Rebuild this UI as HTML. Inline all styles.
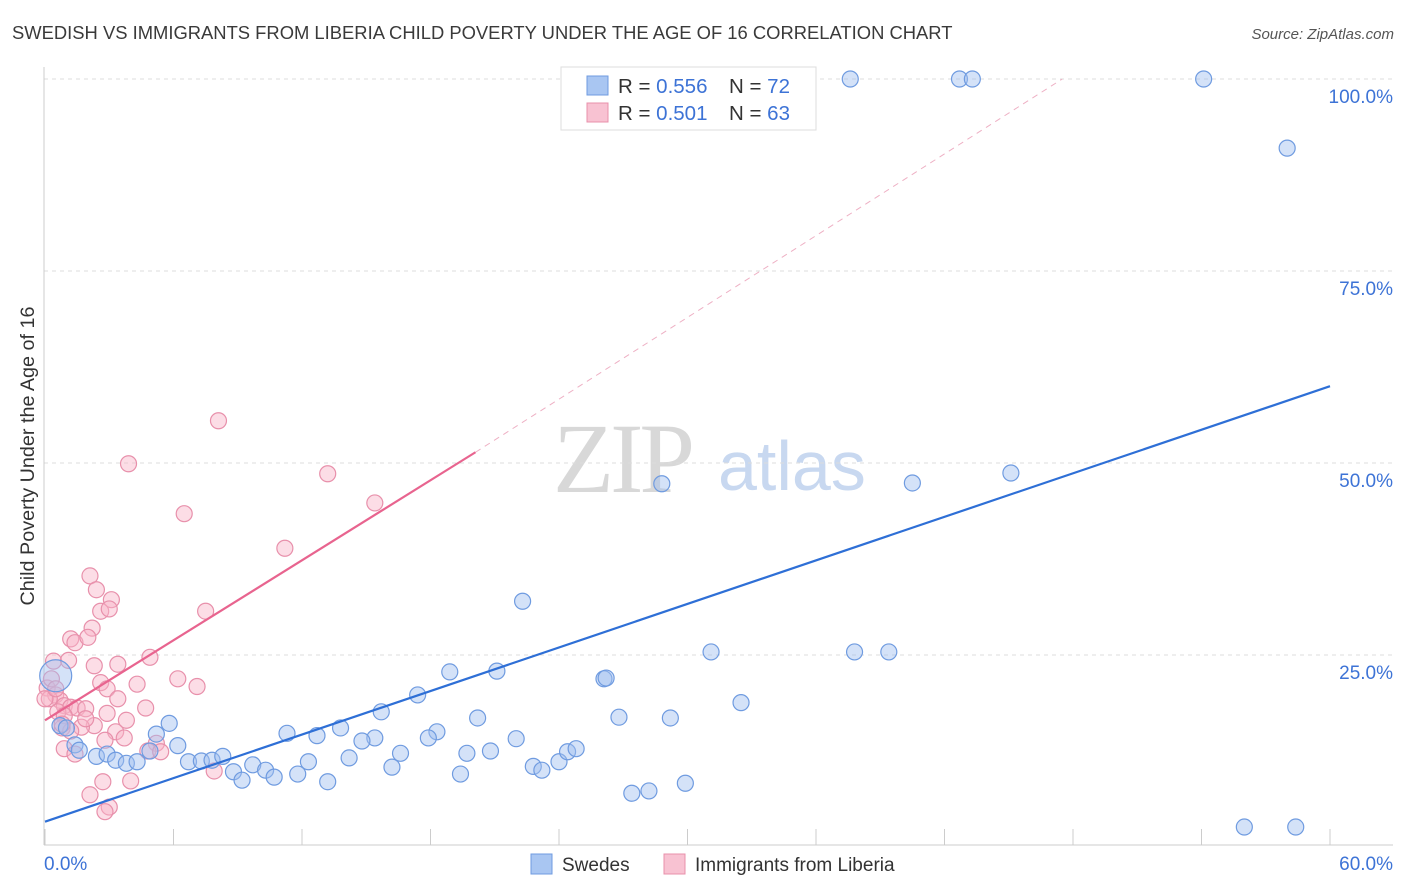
<!DOCTYPE html>
<html><head><meta charset="utf-8"><style>
body{margin:0;background:#fff;font-family:"Liberation Sans",sans-serif;}
#wrap{position:relative;width:1406px;height:892px;overflow:hidden;}
</style></head><body>
<div id="wrap">
<svg id="svg" width="1406" height="892" xmlns="http://www.w3.org/2000/svg">
<text x="12" y="39" font-size="18.4" fill="#3a3a3a">SWEDISH VS IMMIGRANTS FROM LIBERIA CHILD POVERTY UNDER THE AGE OF 16 CORRELATION CHART</text>
<text x="1394" y="39" font-size="15" fill="#555" font-style="italic" text-anchor="end">Source: ZipAtlas.com</text>
<text x="34" y="456" font-size="19.8" fill="#333" text-anchor="middle" transform="rotate(-90 34 456)">Child Poverty Under the Age of 16</text>
<g>
<text x="553" y="492" font-size="100" font-family="Liberation Serif,serif" fill="#d8d8d8" letter-spacing="-4">ZIP</text>
<text x="718" y="490" font-size="70" fill="#c8d8f0">atlas</text>
</g>
<g id="grid"></g>
<g id="axes"></g>
<g id="marks"></g>
<g>
<rect x="561" y="67" width="255" height="63" fill="#fff" stroke="#ddd"/>
<rect x="587" y="76" width="21" height="19" fill="#a9c6f2" stroke="#6f9be0"/>
<rect x="587" y="103" width="21" height="19" fill="#f8c2d2" stroke="#e890ab"/>
<text x="618" y="93" font-size="20.5" fill="#333">R = <tspan fill="#3d73d6">0.556</tspan></text>
<text x="729" y="93" font-size="20.5" fill="#333">N = <tspan fill="#3d73d6">72</tspan></text>
<text x="618" y="120" font-size="20.5" fill="#333">R = <tspan fill="#3d73d6">0.501</tspan></text>
<text x="729" y="120" font-size="20.5" fill="#333">N = <tspan fill="#3d73d6">63</tspan></text>
</g>
<g>
<rect x="531" y="854" width="21" height="20" fill="#a9c6f2" stroke="#6f9be0"/>
<text x="562" y="871" font-size="19" fill="#333">Swedes</text>
<rect x="664" y="854" width="21" height="20" fill="#f8c2d2" stroke="#e890ab"/>
<text x="695" y="871" font-size="19" fill="#333">Immigrants from Liberia</text>
</g>
</svg>
</div>
<script>
const yTicks=[25,50,75,100];
const yTickLabels=["25.0%","50.0%","75.0%","100.0%"];
const xTicks=[0,6,12,18,24,30,36,42,48,54,60];
const swedesX=[37.6,42.7,43.3,54.1,58.0,45.1,40.5,28.8,22.3,31.1,37.8,39.4,26.1,26.2,18.9,21.1,17.4,32.5,26.8,29.2,20.2,15.7,5.8,11.3,12.7,13.8,18.3,17.9,15.4,14.8,22.0,6.2,5.2,4.9,1.4,1.6,2.4,2.9,3.3,3.8,4.3,6.7,7.3,7.8,8.3,8.8,9.2,9.7,10.3,10.7,11.8,12.3,13.2,14.2,16.2,16.6,19.4,19.7,20.8,22.8,23.2,24.0,24.4,24.8,27.4,28.2,29.9,56.0,58.4,0.7,1.0];
const swedesY=[100,100,100,100,91.0,48.7,47.4,47.3,32.0,25.4,25.4,25.4,21.9,22.0,22.8,22.9,19.8,18.8,16.9,16.8,16.8,17.6,16.1,14.8,14.5,15.5,15.0,14.2,14.2,13.8,14.1,13.2,14.7,12.5,13.3,12.6,11.8,12.1,11.3,10.9,11.1,11.1,11.2,11.3,11.8,9.8,8.7,10.7,10.0,9.1,9.5,11.1,8.5,11.6,10.4,12.2,9.5,12.2,12.5,10.5,10.0,11.1,12.4,12.8,7.0,7.3,8.3,2.6,2.6,15.8,15.5];
const swedesBig=[[0.5,22.3]];
const liberiaX=[8.1,3.9,13.2,15.4,6.5,11.2,2.1,2.4,3.1,2.6,3.0,7.5,2.2,1.2,1.4,2.0,4.9,0.4,1.1,2.3,3.4,6.2,4.3,7.1,2.6,2.9,3.4,0.1,0.5,0.7,0.9,1.2,1.5,1.9,0.6,0.9,2.9,4.7,3.8,2.3,1.7,0.8,1.2,3.3,2.8,3.7,5.2,0.9,1.4,4.8,5.4,2.7,2.1,4.0,3.0,2.8,7.9,0.2,0.3,0.8,1.9,0.0,0.5];
const liberiaY=[55.5,49.9,48.6,44.8,43.4,38.9,35.3,33.5,32.2,30.7,31.0,30.7,28.5,27.1,26.6,27.3,24.7,24.2,24.3,23.6,23.8,21.9,21.2,20.9,21.4,20.6,19.3,20.7,19.8,19.1,18.4,18.2,18.1,18.0,17.6,17.1,17.4,18.1,16.5,15.8,15.6,15.5,15.1,15.0,13.9,14.2,13.5,12.8,12.1,12.5,12.4,8.5,6.8,8.6,5.2,4.6,9.9,19.3,21.9,16.0,16.7,19.3,20.6];
const swedesTrend=[[0,3.3],[60,60]];
const liberiaTrend=[[0,16.5],[20.1,51.4]];
const liberiaTrendDash=[[20.1,51.4],[47.5,100]];

const NS="http://www.w3.org/2000/svg";
const sx=v=>45+v*(1330-45)/60;
const sy=v=>847-v*7.68;
function mk(tag,attrs,parent){const e=document.createElementNS(NS,tag);for(const k in attrs)e.setAttribute(k,attrs[k]);parent.appendChild(e);return e;}
const grid=document.getElementById('grid'),axes=document.getElementById('axes'),marks=document.getElementById('marks');
yTicks.forEach((t,i)=>{
  const l=mk('line',{x1:44,x2:1393,y1:sy(t),y2:sy(t),stroke:'#ddd','stroke-dasharray':'4,4'},grid);
  
  
  const tx=mk('text',{x:1393,y:sy(t)+24,'font-size':19,fill:'#3d73d6','text-anchor':'end'},axes);
  tx.textContent=yTickLabels[i];
  
  
});
const ax=mk('line',{x1:44,x2:44,y1:67,y2:845,stroke:'#ccc'},axes);


const bx=mk('line',{x1:44,x2:1393,y1:845,y2:845,stroke:'#ccc'},axes);


xTicks.forEach(t=>{
  const l=mk('line',{x1:sx(t),x2:sx(t),y1:829,y2:845,stroke:'#ccc'},axes);
  
  
});
const x0=mk('text',{x:44,y:870,'font-size':19,fill:'#3d73d6'},axes);x0.textContent='0.0%';


const x1=mk('text',{x:1393,y:870,'font-size':19,fill:'#3d73d6','text-anchor':'end'},axes);x1.textContent='60.0%';



liberiaX.forEach((x,i)=>{
  const c=mk('circle',{cx:sx(x),cy:sy(liberiaY[i]),r:8,fill:'rgba(248,180,200,0.45)',stroke:'#e890ab','stroke-width':1.2},marks);
  
  
});
swedesX.forEach((x,i)=>{
  const c=mk('circle',{cx:sx(x),cy:sy(swedesY[i]),r:8,fill:'rgba(160,190,240,0.45)',stroke:'#6f9be0','stroke-width':1.2},marks);
  
  
});
swedesBig.forEach(p=>{
  const c=mk('circle',{cx:sx(p[0]),cy:sy(p[1]),r:16,fill:'rgba(160,190,240,0.45)',stroke:'#6f9be0','stroke-width':1.2},marks);
  
  
});
const d=mk('line',{x1:sx(liberiaTrendDash[0][0]),y1:sy(liberiaTrendDash[0][1]),x2:sx(liberiaTrendDash[1][0]),y2:sy(liberiaTrendDash[1][1]),stroke:'#eeb0c4','stroke-width':1,'stroke-dasharray':'6,5'},marks);


const lt=mk('line',{x1:sx(liberiaTrend[0][0]),y1:sy(liberiaTrend[0][1]),x2:sx(liberiaTrend[1][0]),y2:sy(liberiaTrend[1][1]),stroke:'#e8648f','stroke-width':2.2},marks);


const st=mk('line',{x1:sx(swedesTrend[0][0]),y1:sy(swedesTrend[0][1]),x2:sx(swedesTrend[1][0]),y2:sy(swedesTrend[1][1]),stroke:'#2e6fd6','stroke-width':2.2},marks);


</script>
</body></html>
